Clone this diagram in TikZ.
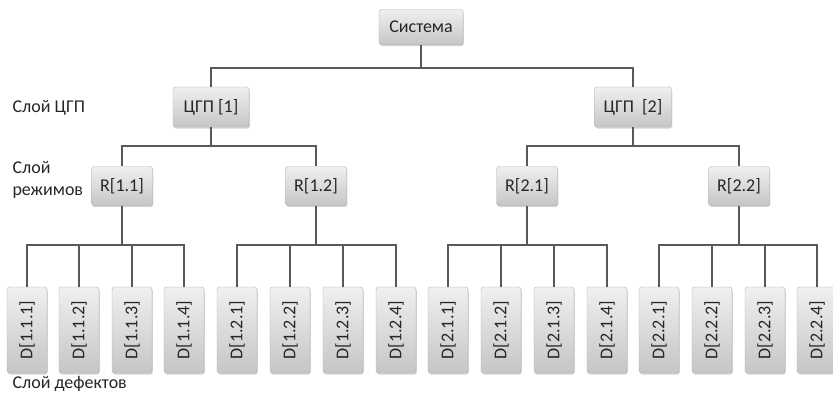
\documentclass[tikz,border=0pt]{standalone}
\usepackage{fontspec}
\setmainfont{Carlito}
\usetikzlibrary{shadows}

\tikzset{
	blk/.style={draw=gray!60, rounded corners=2.5pt, top color=gray!12, bottom color=gray!45,
		drop shadow={shadow xshift=0.8pt, shadow yshift=-1.5pt, opacity=0.35},
		inner sep=0pt, text=black!85, font=\fontsize{18}{20}\selectfont},
	leaf/.style={blk, minimum width=40, minimum height=86},
	link/.style={draw=black!65, line width=1.8pt},
	lbl/.style={anchor=west, align=left, text=black!85, font=\fontsize{18}{22}\selectfont}
}

\begin{document}
\begin{tikzpicture}[x=1pt,y=-1pt]
\useasboundingbox (0,0) rectangle (833,399);
% top
\node[blk, minimum width=84, minimum height=35] (sys) at (421,27) {Система};
%
\node[blk, minimum width=76, minimum height=40] (c1) at (211,107) {ЦГП [1]};
\node[blk, minimum width=77, minimum height=40] (c2) at (633,107) {ЦГП\ \ [2]};
%
\node[blk, minimum width=61, minimum height=39] (r11) at (122,186) {R[1.1]};
\node[blk, minimum width=61, minimum height=39] (r12) at (316,186) {R[1.2]};
\node[blk, minimum width=61, minimum height=39] (r21) at (527,186) {R[2.1]};
\node[blk, minimum width=61, minimum height=39] (r22) at (739,186) {R[2.2]};
% defects
\node[leaf] (d111) at (27,330)  {\rotatebox{90}{D[1.1.1]}};
\node[leaf] (d112) at (79,330)  {\rotatebox{90}{D[1.1.2]}};
\node[leaf] (d113) at (132,330) {\rotatebox{90}{D[1.1.3]}};
\node[leaf] (d114) at (184,330) {\rotatebox{90}{D[1.1.4]}};
\node[leaf] (d121) at (237,330) {\rotatebox{90}{D[1.2.1]}};
\node[leaf] (d122) at (290,330) {\rotatebox{90}{D[1.2.2]}};
\node[leaf] (d123) at (343,330) {\rotatebox{90}{D[1.2.3]}};
\node[leaf] (d124) at (396,330) {\rotatebox{90}{D[1.2.4]}};
\node[leaf] (d211) at (448,330) {\rotatebox{90}{D[2.1.1]}};
\node[leaf] (d212) at (501,330) {\rotatebox{90}{D[2.1.2]}};
\node[leaf] (d213) at (554,330) {\rotatebox{90}{D[2.1.3]}};
\node[leaf] (d214) at (607,330) {\rotatebox{90}{D[2.1.4]}};
\node[leaf] (d221) at (659,330) {\rotatebox{90}{D[2.2.1]}};
\node[leaf] (d222) at (712,330) {\rotatebox{90}{D[2.2.2]}};
\node[leaf] (d223) at (765,330) {\rotatebox{90}{D[2.2.3]}};
\node[leaf] (d224) at (817,330) {\rotatebox{90}{D[2.2.4]}};
% layer names
\node[lbl] (lc) at (9,108) {Слой ЦГП};
\node[lbl] (lr) at (9,180) {Слой\\режимов};
\node[lbl] (ld) at (9,384) {Слой дефектов};
% links
\coordinate (b0) at (421,68);
\coordinate (b1) at (211,146);
\coordinate (b2) at (633,146);
\coordinate (b11) at (122,245);
\coordinate (b12) at (316,245);
\coordinate (b21) at (527,245);
\coordinate (b22) at (739,245);
\draw[link] (sys.south) -- (b0);
\draw[link] (c1.north) |- (b0) -| (c2.north);
%
\draw[link] (c1.south) -- (b1);
\draw[link] (r11.north) |- (b1) -| (r12.north);
\draw[link] (c2.south) -- (b2);
\draw[link] (r21.north) |- (b2) -| (r22.north);
%
\draw[link] (r11.south) -- (b11);
\draw[link] (d111.north) |- (b11) -| (d114.north);
\draw[link] (d112.north) -- (d112.north |- b11);
\draw[link] (d113.north) -- (d113.north |- b11);
\draw[link] (r12.south) -- (b12);
\draw[link] (d121.north) |- (b12) -| (d124.north);
\draw[link] (d122.north) -- (d122.north |- b12);
\draw[link] (d123.north) -- (d123.north |- b12);
\draw[link] (r21.south) -- (b21);
\draw[link] (d211.north) |- (b21) -| (d214.north);
\draw[link] (d212.north) -- (d212.north |- b21);
\draw[link] (d213.north) -- (d213.north |- b21);
\draw[link] (r22.south) -- (b22);
\draw[link] (d221.north) |- (b22) -| (d224.north);
\draw[link] (d222.north) -- (d222.north |- b22);
\draw[link] (d223.north) -- (d223.north |- b22);
\end{tikzpicture}
\end{document}
